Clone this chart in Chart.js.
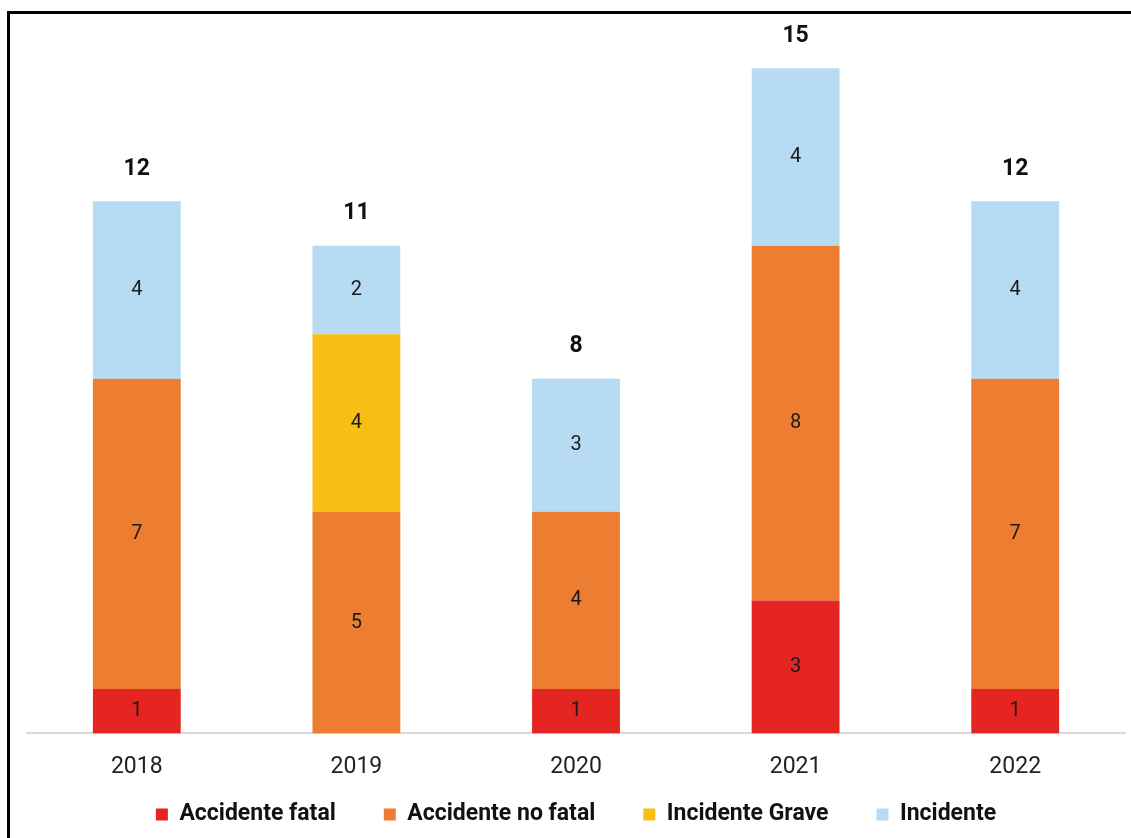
<!DOCTYPE html>
<html>
<head>
<meta charset="utf-8">
<script src="https://cdn.jsdelivr.net/npm/chart.js@4.4.1/dist/chart.umd.min.js"></script>
<style>
  html, body { margin: 0; padding: 0; background: #fff; overflow: hidden; }
  #wrap { position: relative; width: 1131px; height: 838px; }
  #frame { position: absolute; left: 7px; top: 11px; width: 1140px; height: 840px;
           border-left: 3px solid #000; border-top: 3px solid #000; box-sizing: border-box; }
  canvas { position: absolute; left: 0; top: 0; }
</style>
</head>
<body>
<div id="wrap">
  <div id="frame"></div>
  <canvas id="chart" width="1131" height="838"></canvas>
</div>
<script>
const years = ["2018", "2019", "2020", "2021", "2022"];
const fatal = [1, 0, 1, 3, 1];
const noFatal = [7, 5, 4, 8, 7];
const grave = [0, 4, 0, 0, 0];
const incidente = [4, 2, 3, 4, 4];

const font = "Roboto";

// labels inside segments plus totals above each stack
const labelPlugin = {
  id: "labels",
  afterLayout(chart) {
    // legend padding is wide for spacing between items, pull it up closer to the axis
    chart.legend.top -= 38;
    chart.legend.bottom -= 38;
  },
  afterDatasetsDraw(chart) {
    const ctx = chart.ctx;
    ctx.save();
    ctx.textAlign = "center";
    ctx.textBaseline = "middle";
    ctx.fillStyle = "#1a1a1a";
    ctx.font = "20px " + font;
    chart.data.datasets.forEach((ds, i) => {
      const meta = chart.getDatasetMeta(i);
      meta.data.forEach((bar, j) => {
        const v = ds.data[j];
        if (!v) return;
        ctx.fillText(v, bar.x, (bar.y + bar.base) / 2);
      });
    });
    ctx.font = "bold 23px " + font;
    ctx.fillStyle = "#111";
    years.forEach((y, j) => {
      const total = fatal[j] + noFatal[j] + grave[j] + incidente[j];
      const x = chart.scales.x.getPixelForValue(j);
      const top = chart.scales.y.getPixelForValue(total);
      ctx.fillText(total, x, top - 32);
    });
    ctx.restore();
  }
};

new Chart(document.getElementById("chart"), {
  type: "bar",
  data: {
    labels: years,
    datasets: [
      { label: "Accidente fatal", data: fatal, backgroundColor: "#E42521" },
      { label: "Accidente no fatal", data: noFatal, backgroundColor: "#ED7D31" },
      { label: "Incidente Grave", data: grave, backgroundColor: "#F9BE14" },
      { label: "Incidente", data: incidente, backgroundColor: "#B6DBF3" }
    ]
  },
  options: {
    responsive: false,
    animation: false,
    datasets: { bar: { categoryPercentage: 1, barPercentage: 0.4 } },
    layout: { padding: { left: 27, right: 6, top: 24, bottom: -36 } },
    scales: {
      x: {
        stacked: true,
        grid: { display: false },
        border: { display: true, color: "#d9d9d9", width: 2 },
        ticks: { color: "#222", font: { family: font, size: 23 }, padding: 12 }
      },
      y: {
        stacked: true,
        display: false,
        min: 0,
        max: 16
      }
    },
    plugins: {
      legend: {
        position: "bottom",
        labels: {
          boxWidth: 12,
          boxHeight: 12,
          padding: 48,
          color: "#111",
          font: { family: font, size: 23, weight: "bold" }
        }
      },
      tooltip: { enabled: false }
    }
  },
  plugins: [labelPlugin]
});
</script>
</body>
</html>
